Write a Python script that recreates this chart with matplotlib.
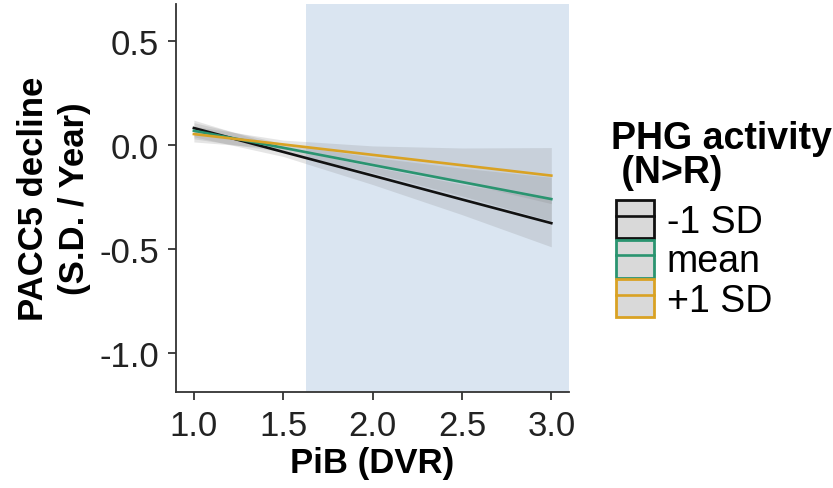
import matplotlib
matplotlib.use("Agg")
import matplotlib.pyplot as plt
from matplotlib.patches import Patch
from matplotlib.lines import Line2D

# values
pib = [1.0, 1.5, 2.0, 2.5, 3.0]
groups = ["-1 SD", "mean", "+1 SD"]
fit_low = [0.082, -0.033, -0.147, -0.262, -0.376]
fit_mean = [0.069, -0.013, -0.096, -0.178, -0.260]
fit_high = [0.053, 0.003, -0.047, -0.097, -0.147]
lo_low = [0.040, -0.055, -0.190, -0.335, -0.490]
hi_low = [0.120, -0.011, -0.104, -0.189, -0.262]
lo_mean = [0.030, -0.033, -0.133, -0.245, -0.365]
hi_mean = [0.108, 0.007, -0.059, -0.111, -0.155]
lo_high = [0.015, -0.018, -0.090, -0.180, -0.282]
hi_high = [0.091, 0.024, -0.004, -0.014, -0.012]
amyloid_cut = 1.625

colors = ["#111111", "#2a9470", "#d9a224"]
fits = [fit_low, fit_mean, fit_high]
los = [lo_low, lo_mean, lo_high]
his = [hi_low, hi_mean, hi_high]

plt.rcParams["font.family"] = ["Liberation Sans", "DejaVu Sans"]

fig = plt.figure(figsize=(8.33, 4.89), dpi=100)
ax = fig.add_axes([0.2113, 0.196, 0.472, 0.794])

# amyloid positive region
ax.axvspan(amyloid_cut, 3.1, color="#dae5f1", lw=0, zorder=0)

for lo, hi in zip(los, his):
    ax.fill_between(pib, lo, hi, color="grey", alpha=0.2, lw=0, zorder=1)
for fit, c in zip(fits, colors):
    ax.plot(pib, fit, color=c, lw=1.9, zorder=2)

ax.set_xlim(0.9, 3.1)
ax.set_ylim(-1.19, 0.68)
ax.set_xticks([1.0, 1.5, 2.0, 2.5, 3.0])
ax.set_yticks([0.5, 0.0, -0.5, -1.0])
ax.set_xticklabels(["1.0", "1.5", "2.0", "2.5", "3.0"])
ax.set_yticklabels(["0.5", "0.0", "-0.5", "-1.0"])

for side in ["top", "right"]:
    ax.spines[side].set_visible(False)
for side in ["left", "bottom"]:
    ax.spines[side].set_color("#333333")
    ax.spines[side].set_linewidth(1.3)
ax.tick_params(length=6, width=1.3, color="#333333", pad=6,
               labelsize=25, labelcolor="#222222")

ax.set_xlabel("PiB (DVR)", fontsize=25, fontweight="bold", labelpad=3)
ax.set_ylabel("PACC5 decline\n(S.D. / Year)", fontsize=25,
              fontweight="bold", labelpad=6, linespacing=1.3)

# legend title placed by hand, entries below it
fig.text(611 / 833, 1 - 121 / 489, "PHG activity\n (N>R)", fontsize=27,
         fontweight="bold", ha="left", va="top", linespacing=0.92)

handles = [
    (Patch(facecolor="#d9d9d9", edgecolor=c, lw=2),
     Line2D([], [], color=c, lw=1.9))
    for c in colors
]
leg = fig.legend(handles, groups, loc="upper left",
                 bbox_to_anchor=(616 / 833, 1 - 201 / 489), frameon=False,
                 fontsize=27, handlelength=1.0, handleheight=1.18,
                 handletextpad=0.35, labelspacing=0.0, borderpad=0,
                 borderaxespad=0)

fig.savefig("out.png", dpi=100)
